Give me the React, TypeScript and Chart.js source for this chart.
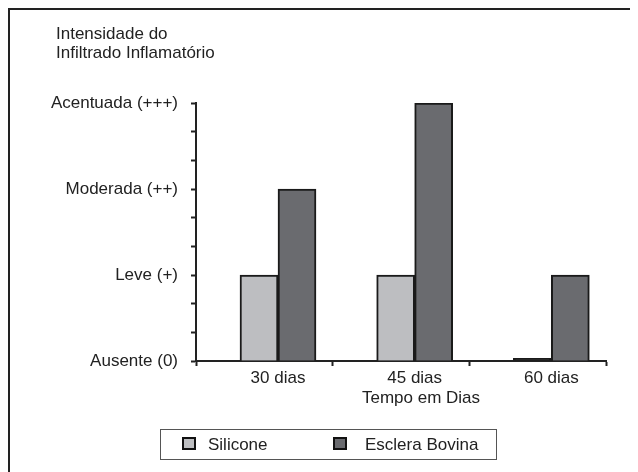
import React, { useEffect, useRef } from 'react';
import { Chart, registerables } from 'chart.js';

Chart.register(...registerables);

// ---- data ----
const categories = ['30 dias', '45 dias', '60 dias'];
const categoryPositions = [0, 1, 2];
const seriesNames = ['Silicone', 'Esclera Bovina'];
const siliconeValues = [1, 1, 0.03];
const escleraValues = [2, 3, 1];
const yTickLabels = ['Ausente (0)', 'Leve (+)', 'Moderada (++)', 'Acentuada (+++)'];
const yMinorPerMajor = 3;
const yTitleLines = ['Intensidade do', 'Infiltrado Inflamatório'];
const xTitle = 'Tempo em Dias';
const xBoundaries = [-0.6, 0.4, 1.4, 2.4];

const seriesColors = ['#bdbec1', '#6a6b6f'];
const FONT = "'Liberation Sans', Arial, sans-serif";
const FS = 17;
const INK = '#222222';

const yTickValues: number[] = [];
for (let i = 0; i <= (yTickLabels.length - 1) * yMinorPerMajor; i++) yTickValues.push(i / yMinorPerMajor);
const xTickValues = [...xBoundaries, ...categoryPositions].sort((a, b) => a - b);
const isBoundary = (v: number) => xBoundaries.some((b) => Math.abs(b - v) < 1e-6);

const decorPlugin = {
  id: 'decor',
  beforeDraw(chart: any) {
    const { ctx, width, height } = chart;
    ctx.save();
    ctx.fillStyle = '#ffffff';
    ctx.fillRect(0, 0, width, height);
    ctx.strokeStyle = INK;
    ctx.lineWidth = 2;
    ctx.beginPath();
    ctx.moveTo(1, height);
    ctx.lineTo(1, 1);
    ctx.lineTo(width, 1);
    ctx.stroke();
    ctx.restore();
  },
  afterDraw(chart: any) {
    const { ctx } = chart;
    ctx.save();
    ctx.fillStyle = INK;
    ctx.font = `${FS}px ${FONT}`;
    ctx.textBaseline = 'alphabetic';
    ctx.textAlign = 'left';
    yTitleLines.forEach((line, i) => ctx.fillText(line, 48, 30.5 + i * 19));

    // x axis title
    ctx.textAlign = 'center';
    ctx.fillText(xTitle, 413, 395);

    // legend
    ctx.strokeStyle = '#555555';
    ctx.lineWidth = 1;
    ctx.strokeRect(152.5, 421.5, 336, 30);
    const itemX = [175, 326];
    const textX = [200, 357];
    ctx.textAlign = 'left';
    chart.data.datasets.forEach((ds: any, i: number) => {
      ctx.fillStyle = seriesColors[i];
      ctx.fillRect(itemX[i], 430, 12, 11);
      ctx.strokeStyle = '#111111';
      ctx.lineWidth = 2;
      ctx.strokeRect(itemX[i], 430, 12, 11);
      ctx.fillStyle = INK;
      ctx.fillText(ds.label, textX[i], 442);
    });
    ctx.restore();
  },
};

export default function App() {
  const ref = useRef<HTMLCanvasElement | null>(null);

  useEffect(() => {
    if (!ref.current) return;
    const barColor = (i: number) => (c: any) =>
      c.raw && c.raw.y < 0.1 ? '#1a1a1a' : seriesColors[i];
    const chart = new Chart(ref.current, {
      type: 'bar',
      data: {
        datasets: [
          {
            label: seriesNames[0],
            data: categoryPositions.map((x, i) => ({ x, y: siliconeValues[i] })) as any,
            backgroundColor: barColor(0),
            borderColor: '#1a1a1a',
            borderWidth: 2,
            barThickness: 38,
          },
          {
            label: seriesNames[1],
            data: categoryPositions.map((x, i) => ({ x, y: escleraValues[i] })) as any,
            backgroundColor: barColor(1),
            borderColor: '#1a1a1a',
            borderWidth: 2,
            barThickness: 38,
          },
        ],
      },
      options: {
        responsive: false,
        animation: false,
        layout: { padding: { top: 95, right: 32, left: 0, bottom: 0 } },
        plugins: {
          legend: { display: false },
          tooltip: { enabled: false },
          title: { display: false },
        },
        scales: {
          x: {
            type: 'linear',
            offset: false,
            min: xBoundaries[0],
            max: xBoundaries[xBoundaries.length - 1],
            afterBuildTicks: (s: any) => {
              s.ticks = xTickValues.map((v) => ({ value: v }));
            },
            afterFit: (s: any) => {
              s.height = 111;
            },
            border: { display: true, color: INK, width: 2 },
            grid: {
              offset: false,
              drawOnChartArea: false,
              drawTicks: true,
              tickLength: 5,
              tickWidth: 2,
              tickColor: (c: any) => (c.tick && isBoundary(c.tick.value) ? INK : 'rgba(0,0,0,0)'),
            },
            ticks: {
              autoSkip: false,
              maxRotation: 0,
              padding: 2,
              color: INK,
              font: { family: FONT, size: FS },
              callback: (v: any) => {
                const idx = categoryPositions.findIndex((p) => Math.abs(p - v) < 1e-6);
                return idx >= 0 ? categories[idx] : '';
              },
            },
          },
          y: {
            type: 'linear',
            min: 0,
            max: yTickLabels.length - 1,
            afterBuildTicks: (s: any) => {
              s.ticks = yTickValues.map((v) => ({ value: v }));
            },
            afterFit: (s: any) => {
              s.width = 188;
            },
            border: { display: true, color: INK, width: 2 },
            grid: {
              drawOnChartArea: false,
              drawTicks: true,
              tickLength: 5,
              tickWidth: 2,
              tickColor: INK,
            },
            ticks: {
              autoSkip: false,
              padding: 13,
              color: INK,
              font: { family: FONT, size: FS },
              callback: (v: any) => {
                const i = Math.round(v);
                return Math.abs(v - i) < 1e-6 ? yTickLabels[i] : '';
              },
            },
          },
        },
      },
      plugins: [decorPlugin],
    });
    return () => chart.destroy();
  }, []);

  return <canvas ref={ref} width={630} height={464} style={{ display: 'block' }} />;
}
